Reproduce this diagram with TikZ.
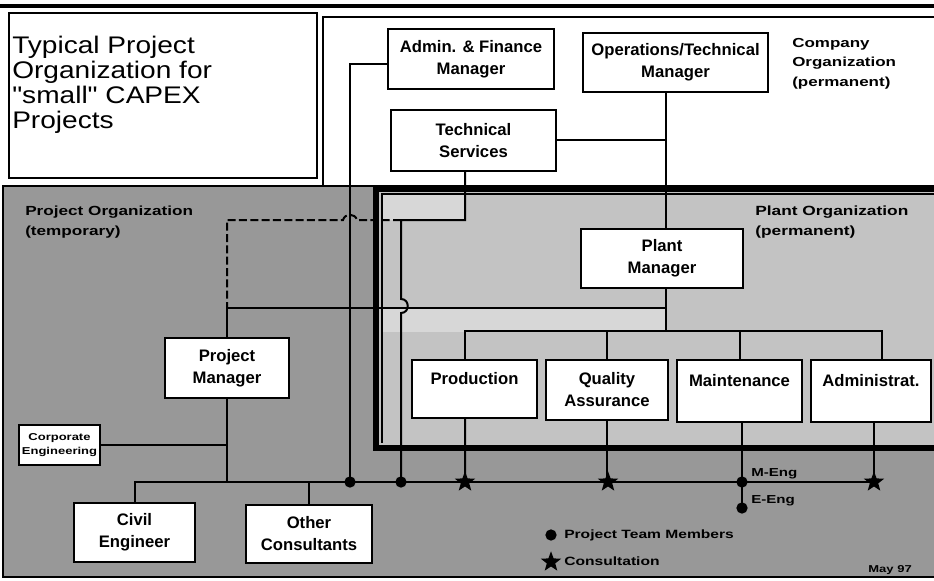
\documentclass[tikz,border=0pt]{standalone}
\usepackage{fontspec}
\setmainfont{Liberation Sans}
\newfontfamily\titlefont[FakeStretch=1.17]{Liberation Sans}
\newfontfamily\widefont[FakeStretch=1.3]{Liberation Sans}
\usetikzlibrary{shapes.geometric}
\definecolor{projgray}{RGB}{152,152,152}
\definecolor{plantgray}{RGB}{195,195,195}
\definecolor{lightpatch}{RGB}{215,215,215}
\tikzset{
  box/.style={draw, fill=white, line width=1.1pt, align=center, inner sep=0pt,
    font=\fontsize{12.5}{16.5}\selectfont\bfseries},
  wh/.style 2 args={minimum width=#1*0.75pt, minimum height=#2*0.75pt},
  conn/.style={line width=1.5pt},
  dotm/.style={circle, fill=black, inner sep=0pt, minimum size=8.5pt},
  starm/.style={star, star points=5, star point ratio=2.4, fill=black, inner sep=0pt, minimum size=16pt},
  lbl/.style={font=\widefont\fontsize{9.8}{14.5}\selectfont\bfseries, align=left, inner sep=0pt},
}
\begin{document}
\begin{tikzpicture}[x=0.75pt,y=-0.75pt]
\useasboundingbox (0,0) rectangle (934,581);
% backgrounds
\fill[white] (0,0) rectangle (934,581);
\fill[projgray] (3,186) rectangle (934,577);
\fill[plantgray] (376,189) rectangle (934,448);
\fill[lightpatch] (382,194) rectangle (465,220);
\fill[lightpatch] (382,308) rectangle (666,332);
% frames
\draw[line width=2.5pt] (0,6) -- (934,6);
\draw[line width=1.2pt] (323,186) -- (323,17) -- (934,17);
\draw[line width=2.2pt] (9,13) rectangle (317,178);
\draw[line width=2.2pt] (940,186) -- (3,186) -- (3,577) -- (940,577);
\draw[line width=4.5pt] (940,189) -- (376,189) -- (376,448) -- (940,448);
\draw[line width=0.8pt] (940,194) -- (382,194) -- (382,443);
% labels of areas
\node[anchor=north west, inner sep=0pt, align=left, font=\titlefont\fontsize{18}{18.75}\selectfont] (titletext) at (12,36) {Typical Project\\Organization for\\"small" CAPEX\\Projects};
\node[lbl, anchor=north west] (comptext) at (792,38) {Company\\Organization\\(permanent)};
\node[lbl, anchor=north west, font=\widefont\fontsize{9.9}{15}\selectfont\bfseries] (projtext) at (25,206) {Project Organization\\(temporary)};
\node[lbl, anchor=north west, font=\widefont\fontsize{10}{15}\selectfont\bfseries] (planttext) at (755,206) {Plant Organization\\(permanent)};
% coordinates
\coordinate (vx) at (666,0);
\coordinate (d1) at (350,482);
\coordinate (d2) at (401,482);
\coordinate (s1) at (465,482);
\coordinate (s2) at (608,482);
\coordinate (m1) at (742,482);
\coordinate (e1) at (742,508);
\coordinate (s4) at (874,482);
\coordinate (ts1) at (465,220);
\coordinate (ts2) at (401,220);
\coordinate (hb) at (666,308);
\coordinate (bus) at (666,332);
% boxes
\node[box, wh={166}{60}] (admin) at (471,59) {Admin. \& Finance\\Manager};
\node[box, wh={185}{59}] (ops) at (675.5,62.5) {Operations/Technical\\Manager};
\node[box, wh={165}{61}] (ts) at (473.5,140.5) {Technical\\Services};
\node[box, wh={162}{59}] (plant) at (662,258.5) {Plant\\Manager};
\node[box, wh={125}{58}] (prod) at (474.5,389) {Production\\\mbox{}};
\node[box, wh={122}{60}] (qa) at (607,390) {Quality\\Assurance};
\node[box, wh={125}{62}] (mnt) at (739.5,391) {Maintenance\\\mbox{}};
\node[box, wh={120}{62}] (adm) at (871,391) {Administrat.\\\mbox{}};
\node[box, wh={124}{60}] (pm) at (227,368) {Project\\Manager};
\node[box, wh={81}{40}, font=\widefont\fontsize{7.5}{11}\selectfont\bfseries] (ce) at (59.5,445) {Corporate\\Engineering};
\node[box, wh={121}{59}] (civil) at (134.5,532.5) {Civil\\Engineer};
\node[box, wh={126}{58}] (other) at (309,534) {Other\\Consultants};
% connectors
\draw[conn] ([yshift=-3.75pt]admin.west) -| (d1);
\draw[conn] (ts.south -| ts1) -- (ts1) -- (ts2) -- ++(0,79) .. controls +(9,0) and +(9,0) .. ++(0,14) -- (d2);
\draw[conn, dash pattern=on 6pt off 2.5pt] (ts2) -- ++(-44,0) .. controls +(-2,-7) and +(2,-7) .. ++(-14,0) -- (pm.north |- ts2) -- (pm.north |- hb);
\draw[conn] (ts.east) -- (ts.east -| vx);
\draw[conn] (ops.south -| vx) -- (plant.north -| vx);
\draw[conn] (plant.south -| vx) -- (bus);
\draw[conn] (hb) -- (pm.north |- hb) -- (pm.north);
\draw[conn] ([xshift=-7pt]prod.north) -- ++(0,-28) -| ([xshift=8pt]adm.north);
\draw[conn] (qa.north) -- ++(0,-28);
\draw[conn] (mnt.north) -- ++(0,-28);
\draw[conn] (civil.north) |- (s4);
\draw[conn] (other.north) -- (other.north |- s4);
\draw[conn] (pm.south) -- (pm.south |- s4);
\draw[conn] (ce.east) -- (ce.east -| pm.south);
\draw[conn] ([xshift=-7pt]prod.south) -- (s1);
\draw[conn] (qa.south) -- (qa.south |- s2);
\draw[conn] (mnt.south -| m1) -- (e1);
\draw[conn] (adm.south -| s4) -- (s4);
% markers
\node[dotm] (dot1) at (d1) {};
\node[dotm] (dot2) at (d2) {};
\node[dotm] (dot3) at (m1) {};
\node[dotm] (dot4) at (e1) {};
\node[starm] (star1) at (s1) {};
\node[starm] (star2) at (s2) {};
\node[starm] (star4) at (s4) {};
\node[lbl, anchor=west, font=\widefont\fontsize{8.7}{10}\selectfont\bfseries] (meng) at (751,474) {M-Eng};
\node[lbl, anchor=west, font=\widefont\fontsize{8.7}{10}\selectfont\bfseries] (eeng) at (751,501) {E-Eng};
% legend
\node[dotm] (legdot) at (551,535) {};
\node[lbl, anchor=west, font=\widefont\fontsize{9}{10}\selectfont\bfseries] (legdottext) at (564,535) {Project Team Members};
\node[starm] (legstar) at (551,562) {};
\node[lbl, anchor=west, font=\widefont\fontsize{9}{10}\selectfont\bfseries] (legstartext) at (564,561) {Consultation};
\node[lbl, anchor=east, font=\widefont\fontsize{7.5}{9}\selectfont\bfseries] (may) at (912,570) {May 97};
\end{tikzpicture}
\end{document}
